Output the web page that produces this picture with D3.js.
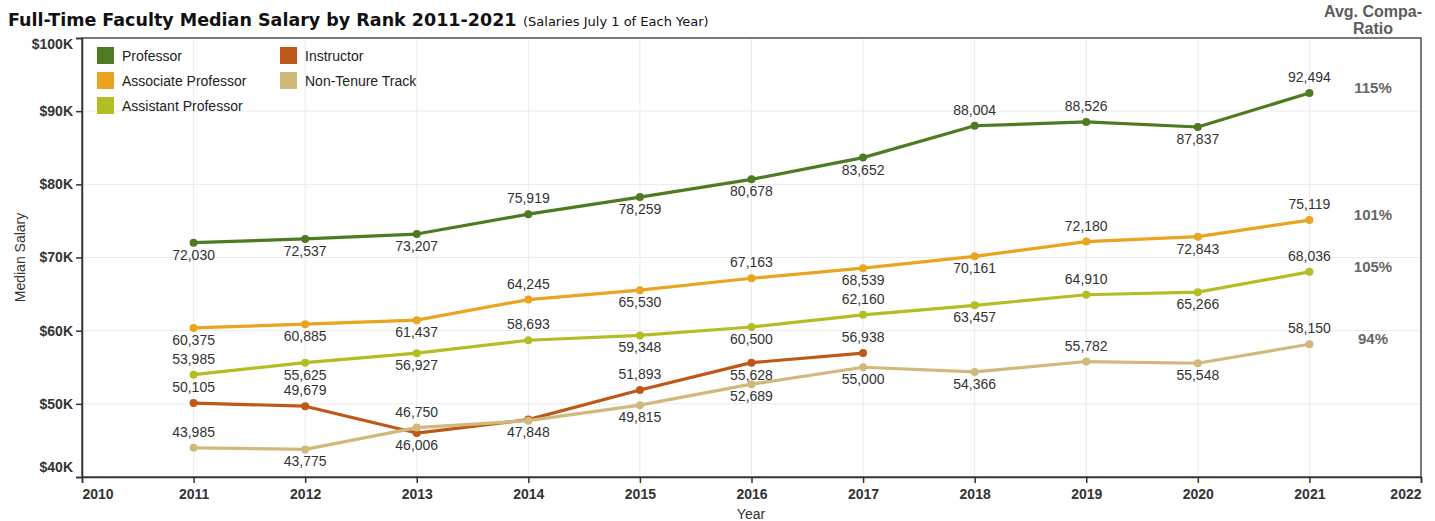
<!DOCTYPE html>
<html>
<head>
<meta charset="utf-8">
<script src="https://cdn.jsdelivr.net/npm/d3@7"></script>
<style>
  body { margin: 0; background: #fff; }
</style>
</head>
<body>
<div id="chart"></div>
<script>
var years = [2011, 2012, 2013, 2014, 2015, 2016, 2017, 2018, 2019, 2020, 2021];
var rankNames = ["Professor", "Associate Professor", "Assistant Professor", "Instructor", "Non-Tenure Track"];
var rankColors = ["#4e7a22", "#e9a51f", "#b3bd24", "#bd5819", "#d1b97c"];

var professor = [72030, 72537, 73207, 75919, 78259, 80678, 83652, 88004, 88526, 87837, 92494];
var associate = [60375, 60885, 61437, 64245, 65530, 67163, 68539, 70161, 72180, 72843, 75119];
var assistant = [53985, 55625, 56927, 58693, 59348, 60500, 62160, 63457, 64910, 65266, 68036];
var instructor = [50105, 49679, 46006, 47848, 51893, 55628, 56938];
var nonTenure = [43985, 43775, 46750, 47700, 49815, 52689, 55000, 54366, 55782, 55548, 58150];

// label placement: a = above the point, b = below, "" = no label
var professorPos = ["b", "b", "b", "a", "b", "b", "b", "a", "a", "b", "a"];
var associatePos = ["b", "b", "b", "a", "b", "a", "b", "b", "a", "b", "a"];
var assistantPos = ["a", "b", "b", "a", "b", "b", "a", "b", "a", "b", "a"];
var instructorPos = ["a", "a", "b", "b", "a", "b", "a"];
var nonTenurePos = ["a", "b", "a", "", "b", "b", "b", "b", "a", "b", "a"];

var compaRatio = ["115%", "101%", "105%", null, "94%"];
var yTicks = [40000, 50000, 60000, 70000, 80000, 90000, 100000];
var xTicks = [2010, 2011, 2012, 2013, 2014, 2015, 2016, 2017, 2018, 2019, 2020, 2021, 2022];

var seriesValues = [professor, associate, assistant, instructor, nonTenure];
var seriesPos = [professorPos, associatePos, assistantPos, instructorPos, nonTenurePos];

var width = 1435, height = 521;
var plotLeft = 82, plotRight = 1421, plotTop = 38, plotBottom = 477;

var svg = d3.select("#chart").append("svg")
  .attr("width", width)
  .attr("height", height)
  .attr("font-family", "Liberation Sans, Arial, sans-serif");

var xScale = d3.scaleLinear().domain([2010, 2022]).range([plotLeft, plotRight]);
var yScale = d3.scaleLinear().domain([40000, 100000]).range([plotBottom, plotTop]);

// grid
svg.append("g").selectAll("line").data(xTicks.slice(1, -1)).enter().append("line")
  .attr("x1", function(d){ return xScale(d); })
  .attr("x2", function(d){ return xScale(d); })
  .attr("y1", plotTop).attr("y2", plotBottom)
  .attr("stroke", "#ebebeb").attr("stroke-width", 1);

svg.append("g").selectAll("line").data(yTicks.slice(1, -1)).enter().append("line")
  .attr("x1", plotLeft).attr("x2", plotRight)
  .attr("y1", function(d){ return yScale(d); })
  .attr("y2", function(d){ return yScale(d); })
  .attr("stroke", "#ebebeb").attr("stroke-width", 1);

// frame
svg.append("rect")
  .attr("x", plotLeft).attr("y", plotTop)
  .attr("width", plotRight - plotLeft).attr("height", plotBottom - plotTop)
  .attr("fill", "none").attr("stroke", "#222").attr("stroke-width", 1.2);

// axes
var yAxis = svg.append("g")
  .attr("transform", "translate(" + plotLeft + ",0)")
  .call(d3.axisLeft(yScale).tickValues(yTicks).tickSize(6).tickPadding(3)
    .tickFormat(function(d){ return "$" + (d / 1000) + "K"; }));
yAxis.select(".domain").attr("stroke", "#333").attr("stroke-width", 1.5);
yAxis.selectAll(".tick line").attr("stroke", "#333").attr("stroke-width", 1.5);
yAxis.selectAll(".tick text")
  .attr("font-family", "Liberation Sans, Arial, sans-serif")
  .attr("font-size", 14).attr("font-weight", "bold").attr("fill", "#333")
  .attr("dy", function(d){ return d == 100000 ? "0.75em" : (d == 40000 ? "-0.4em" : "0.32em"); });

var xAxis = svg.append("g")
  .attr("transform", "translate(0," + plotBottom + ")")
  .call(d3.axisBottom(xScale).tickValues(xTicks).tickSize(6).tickPadding(6)
    .tickFormat(d3.format("d")));
xAxis.select(".domain").attr("stroke", "#333").attr("stroke-width", 1.5);
xAxis.selectAll(".tick line").attr("stroke", "#333").attr("stroke-width", 1.5);
xAxis.selectAll(".tick text")
  .attr("font-family", "Liberation Sans, Arial, sans-serif")
  .attr("font-size", 14).attr("font-weight", "bold").attr("fill", "#333")
  .attr("text-anchor", function(d){ return d == 2022 ? "end" : (d == 2010 ? "start" : "middle"); });

// axis titles
svg.append("text")
  .attr("transform", "translate(25," + ((plotTop + plotBottom) / 2) + ") rotate(-90)")
  .style("text-anchor", "middle")
  .attr("font-size", 14).attr("fill", "#333")
  .text("Median Salary");

svg.append("text")
  .attr("x", 751).attr("y", 519)
  .style("text-anchor", "middle")
  .attr("font-size", 14).attr("fill", "#333")
  .text("Year");

// title
svg.append("text")
  .attr("x", 8).attr("y", 26)
  .attr("font-family", "DejaVu Sans, Verdana, sans-serif")
  .attr("font-size", 17.5).attr("font-weight", "bold").attr("fill", "#111")
  .text("Full-Time Faculty Median Salary by Rank 2011-2021");

svg.append("text")
  .attr("x", 523).attr("y", 26)
  .attr("font-family", "DejaVu Sans, Verdana, sans-serif")
  .attr("font-size", 13).attr("fill", "#111")
  .text("(Salaries July 1 of Each Year)");

// compa-ratio header
svg.append("text")
  .attr("x", 1373).attr("y", 17)
  .style("text-anchor", "middle")
  .attr("font-size", 16).attr("font-weight", "bold").attr("fill", "#5c5c5c")
  .text("Avg. Compa-");
svg.append("text")
  .attr("x", 1373).attr("y", 34)
  .style("text-anchor", "middle")
  .attr("font-size", 16).attr("font-weight", "bold").attr("fill", "#5c5c5c")
  .text("Ratio");

// lines, points, labels
var line = d3.line()
  .x(function(d){ return xScale(d.year); })
  .y(function(d){ return yScale(d.value); });

var formatNum = d3.format(",");

seriesValues.forEach(function(vals, s){
  var df = vals.map(function(v, i){ return {year: years[i], value: v, pos: seriesPos[s][i]}; });
  var g = svg.append("g");

  g.append("path")
    .datum(df)
    .attr("d", line)
    .attr("fill", "none")
    .attr("stroke", rankColors[s])
    .attr("stroke-width", 3.2)
    .attr("stroke-linejoin", "round");

  g.selectAll("circle").data(df).enter().append("circle")
    .attr("cx", function(d){ return xScale(d.year); })
    .attr("cy", function(d){ return yScale(d.value); })
    .attr("r", 4)
    .attr("fill", rankColors[s]);
});

seriesValues.forEach(function(vals, s){
  var df = vals.map(function(v, i){ return {year: years[i], value: v, pos: seriesPos[s][i]}; })
    .filter(function(d){ return d.pos != ""; });

  svg.append("g").selectAll("text").data(df).enter().append("text")
    .attr("x", function(d){ return xScale(d.year); })
    .attr("y", function(d){ return yScale(d.value) + (d.pos == "a" ? -11 : 17); })
    .style("text-anchor", "middle")
    .attr("font-size", 14).attr("fill", "#333")
    .text(function(d){ return formatNum(d.value); });

  if (compaRatio[s]) {
    var last = vals[vals.length - 1];
    svg.append("text")
      .attr("x", 1373)
      .attr("y", yScale(last))
      .style("text-anchor", "middle")
      .attr("font-size", 15).attr("font-weight", "bold").attr("fill", "#666")
      .text(compaRatio[s]);
  }
});

// legend
var legend = svg.append("g").selectAll("g").data(rankNames).enter().append("g")
  .attr("transform", function(d, i){
    var col = i < 3 ? 0 : 1;
    var row = i < 3 ? i : i - 3;
    return "translate(" + (97 + col * 183) + "," + (47 + row * 25) + ")";
  });

legend.append("rect")
  .attr("width", 17).attr("height", 17)
  .attr("fill", function(d, i){ return rankColors[i]; });

legend.append("text")
  .attr("x", 25).attr("y", 14)
  .attr("font-size", 14).attr("fill", "#222")
  .text(function(d){ return d; });
</script>
</body>
</html>
